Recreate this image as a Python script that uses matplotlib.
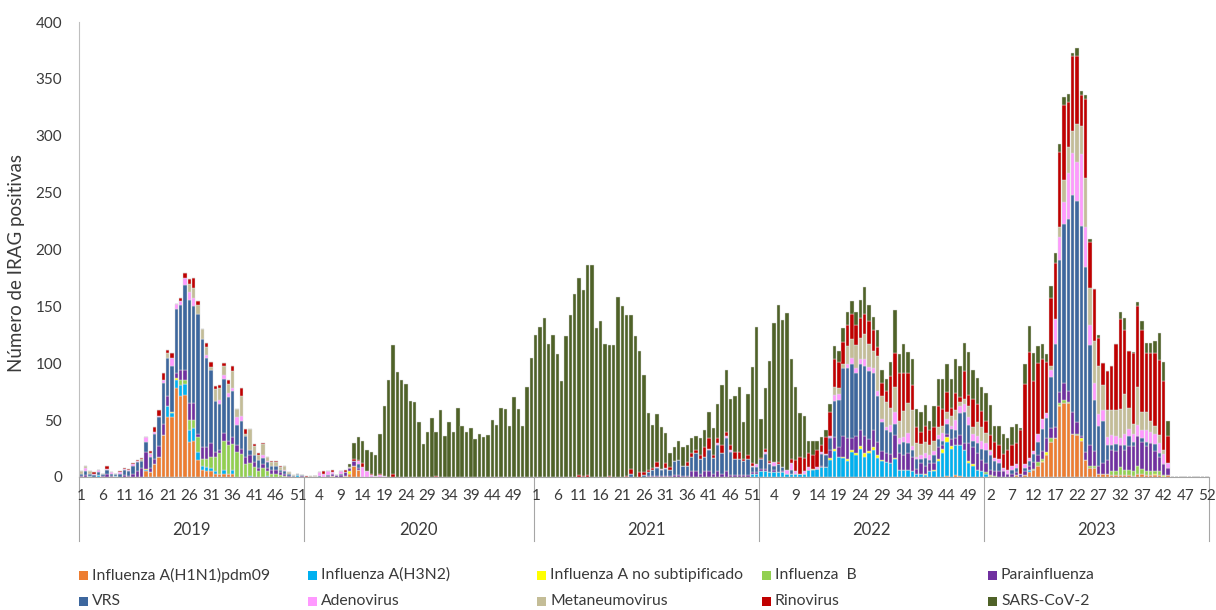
import numpy as np
import matplotlib
matplotlib.use("Agg")
import matplotlib.pyplot as plt
from matplotlib.patches import Rectangle
from matplotlib.transforms import blended_transform_factory

plt.rcParams["font.family"] = ["Lato", "DejaVu Sans"]

# weekly positive IRAG cases by virus, 2019-2023 (2020 has 53 weeks)
years = [2019, 2020, 2021, 2022, 2023]
weeks_per_year = [52, 53, 52, 52, 52]

h1n1 = (
    [0, 0, 0, 0, 0, 0, 0, 0, 0, 0, 0, 0, 0, 0, 0, 5, 4, 11, 18, 37, 53, 53, 78, 71, 72, 31, 32, 15, 6, 5,
     5, 3, 3, 3, 3, 3, 0, 0, 0, 0, 0, 0, 0, 0, 0, 0, 0, 0, 0, 0, 0, 0]
    + [0, 0, 1, 0, 0, 0, 1, 0, 0, 1, 3, 10, 6, 0, 0, 0, 0, 0, 0, 0, 0, 0, 0, 0, 0, 0, 0, 0, 0, 0,
       0, 0, 0, 0, 0, 0, 0, 0, 0, 0, 0, 0, 0, 0, 0, 0, 0, 0, 0, 0, 0, 0, 0]
    + [0, 0, 0, 0, 0, 0, 0, 0, 0, 0, 0, 0, 0, 0, 0, 0, 0, 0, 0, 0, 0, 0, 0, 0, 0, 0, 0, 0, 0, 0,
       0, 0, 0, 0, 0, 0, 0, 0, 0, 0, 0, 0, 0, 0, 0, 0, 0, 0, 0, 0, 0, 0]
    + [0, 0, 0, 0, 0, 0, 0, 0, 0, 0, 0, 0, 0, 0, 0, 0, 0, 0, 0, 0, 0, 0, 0, 0, 0, 0, 0, 0, 0, 0,
       0, 0, 0, 0, 0, 0, 0, 0, 0, 0, 0, 0, 0, 1, 0, 2, 1, 0, 0, 0, 0, 0]
    + [0, 1, 0, 0, 0, 0, 0, 2, 0, 2, 4, 6, 10, 13, 19, 31, 34, 62, 65, 65, 38, 37, 32, 15, 8, 8, 3, 3, 3, 2,
       2, 2, 2, 2, 1, 3, 3, 2, 2, 2, 2, 0, 2, 0, 0, 0, 0, 0, 0, 0, 0, 0]
)
h3n2 = (
    [0, 0, 1, 0, 2, 0, 0, 0, 1, 0, 0, 0, 0, 0, 0, 1, 0, 0, 0, 0, 9, 3, 7, 10, 10, 10, 11, 7, 4, 4,
     3, 2, 0, 3, 0, 3, 0, 0, 0, 1, 0, 0, 0, 1, 0, 0, 0, 0, 0, 0, 2, 0]
    + [0, 0, 0, 0, 0, 0, 0, 0, 0, 0, 0, 0, 0, 0, 0, 0, 0, 0, 0, 0, 0, 0, 0, 0, 0, 0, 0, 0, 0, 0,
       0, 0, 0, 0, 0, 0, 0, 0, 0, 0, 0, 0, 0, 0, 0, 0, 0, 0, 0, 0, 0, 0, 0]
    + [0, 0, 0, 0, 0, 0, 0, 0, 0, 0, 0, 0, 0, 0, 0, 0, 0, 0, 0, 0, 0, 0, 0, 0, 0, 0, 0, 0, 0, 0,
       0, 0, 0, 0, 0, 0, 0, 0, 0, 0, 0, 0, 0, 0, 0, 0, 0, 0, 0, 0, 3, 3]
    + [5, 5, 4, 4, 4, 4, 3, 3, 3, 3, 3, 6, 6, 7, 9, 9, 15, 23, 18, 17, 14, 22, 19, 25, 18, 21, 24, 17, 14, 13,
       12, 16, 6, 6, 6, 5, 3, 3, 2, 5, 5, 14, 21, 30, 25, 26, 27, 24, 12, 10, 6, 5]
    + [3, 0, 0, 0, 0, 0, 0, 0, 0, 0, 2, 0, 0, 0, 0, 0, 0, 0, 0, 0, 0, 0, 0, 0, 0, 0, 0, 0, 0, 0,
       0, 0, 0, 0, 0, 0, 0, 0, 0, 0, 0, 0, 0, 0, 0, 0, 0, 0, 0, 0, 0, 0]
)
flu_a_nst = (
    [0, 0, 0, 0, 0, 0, 0, 0, 0, 0, 0, 0, 0, 0, 0, 1, 0, 0, 0, 0, 0, 1, 2, 0, 0, 0, 0, 0, 0, 0,
     0, 0, 0, 0, 0, 0, 0, 0, 0, 0, 0, 0, 0, 0, 0, 0, 0, 0, 0, 0, 0, 0]
    + [0, 0, 0, 0, 0, 0, 0, 0, 0, 0, 2, 0, 0, 0, 0, 0, 0, 0, 0, 0, 0, 0, 0, 0, 0, 0, 0, 0, 0, 0,
       0, 0, 0, 0, 0, 0, 0, 0, 0, 0, 0, 0, 0, 0, 0, 0, 0, 0, 0, 0, 0, 0, 0]
    + [0, 0, 0, 0, 0, 0, 0, 0, 0, 0, 0, 0, 0, 0, 0, 0, 0, 0, 0, 0, 0, 0, 0, 0, 0, 0, 0, 0, 0, 0,
       0, 0, 0, 0, 0, 0, 0, 0, 0, 0, 0, 0, 0, 0, 0, 0, 0, 0, 0, 0, 0, 0]
    + [0, 0, 0, 0, 0, 0, 0, 0, 0, 0, 0, 0, 1, 0, 0, 0, 2, 2, 0, 1, 2, 2, 2, 2, 3, 2, 2, 2, 1, 0,
       0, 1, 0, 0, 0, 0, 0, 0, 1, 0, 1, 2, 4, 4, 2, 0, 0, 0, 2, 1, 0, 0]
    + [0, 0, 0, 0, 0, 0, 0, 0, 0, 0, 0, 0, 0, 1, 3, 0, 0, 1, 0, 0, 0, 0, 2, 0, 0, 0, 0, 0, 0, 0,
       0, 0, 0, 0, 0, 0, 0, 0, 0, 1, 0, 1, 0, 0, 0, 0, 0, 0, 0, 0, 0, 0]
)
flu_b = (
    [0, 0, 0, 0, 0, 0, 0, 0, 0, 0, 0, 0, 0, 0, 0, 0, 0, 0, 0, 0, 0, 0, 0, 4, 3, 9, 7, 13, 6, 7,
     10, 13, 18, 26, 25, 23, 22, 20, 11, 11, 9, 5, 8, 4, 3, 3, 2, 1, 0, 0, 0, 0]
    + [0, 0, 0, 0, 0, 0, 0, 0, 0, 0, 0, 0, 0, 0, 0, 0, 0, 0, 0, 0, 0, 0, 0, 0, 0, 0, 0, 0, 0, 0,
       0, 0, 0, 0, 0, 0, 0, 0, 0, 0, 0, 0, 0, 0, 0, 0, 0, 0, 0, 0, 0, 0, 0]
    + [0, 0, 0, 0, 0, 0, 0, 0, 0, 0, 0, 0, 0, 0, 0, 0, 0, 0, 0, 0, 0, 0, 0, 0, 0, 0, 0, 0, 0, 0,
       0, 0, 0, 0, 0, 0, 0, 0, 0, 0, 0, 0, 0, 0, 0, 0, 0, 0, 0, 0, 0, 0]
    + [0, 0, 0, 0, 0, 0, 0, 0, 0, 0, 0, 0, 0, 0, 0, 0, 0, 0, 0, 0, 0, 0, 0, 0, 0, 0, 0, 0, 0, 0,
       0, 0, 0, 0, 0, 0, 0, 0, 0, 0, 0, 0, 0, 0, 0, 0, 0, 0, 0, 0, 0, 0]
    + [1, 1, 1, 0, 0, 0, 0, 0, 0, 0, 0, 1, 3, 2, 0, 3, 0, 2, 3, 1, 0, 1, 0, 0, 2, 2, 0, 0, 0, 3,
       3, 7, 4, 4, 4, 7, 4, 3, 3, 2, 3, 1, 0, 0, 0, 0, 0, 0, 0, 0, 0, 0]
)
parainf = (
    [1, 2, 0, 0, 0, 1, 3, 1, 0, 0, 2, 1, 3, 5, 8, 15, 4, 5, 9, 10, 9, 0, 4, 9, 9, 15, 15, 3, 10, 10,
     12, 4, 3, 7, 4, 6, 6, 5, 7, 7, 4, 3, 3, 3, 3, 3, 2, 2, 1, 0, 0, 1]
    + [0, 0, 0, 0, 0, 1, 2, 2, 2, 3, 3, 4, 2, 0, 0, 0, 0, 0, 0, 0, 0, 0, 0, 0, 0, 0, 0, 0, 0, 0,
       0, 0, 0, 0, 0, 0, 0, 0, 0, 0, 0, 0, 0, 0, 0, 0, 0, 0, 0, 0, 0, 0, 0]
    + [0, 0, 0, 0, 0, 0, 0, 0, 0, 0, 0, 0, 0, 0, 0, 0, 0, 0, 0, 0, 0, 0, 0, 0, 0, 0, 1, 1, 1, 1,
       1, 1, 2, 2, 1, 1, 5, 5, 3, 5, 5, 3, 5, 3, 5, 2, 2, 2, 2, 2, 1, 1]
    + [2, 2, 0, 2, 0, 1, 0, 0, 0, 0, 0, 0, 0, 0, 1, 0, 7, 10, 8, 18, 18, 10, 15, 14, 15, 10, 15, 12, 8, 8,
       8, 20, 15, 13, 15, 13, 4, 9, 7, 7, 6, 10, 3, 3, 6, 6, 9, 6, 16, 15, 15, 10]
    + [8, 4, 4, 5, 5, 3, 3, 2, 3, 3, 4, 6, 6, 7, 12, 9, 10, 10, 15, 10, 19, 10, 2, 7, 18, 13, 7, 9, 12, 19,
       18, 19, 18, 21, 22, 26, 24, 22, 25, 18, 13, 9, 6, 0, 0, 0, 0, 0, 0, 0, 0, 0]
)
vrs = (
    [2, 3, 2, 2, 2, 2, 3, 2, 2, 3, 4, 4, 7, 8, 6, 9, 10, 22, 26, 36, 34, 41, 57, 57, 75, 91, 85, 105, 95, 79,
     64, 45, 40, 47, 38, 41, 18, 24, 18, 5, 6, 7, 6, 5, 4, 4, 2, 2, 2, 1, 1, 1]
    + [0, 0, 0, 1, 0, 1, 0, 0, 1, 0, 0, 0, 3, 0, 0, 0, 0, 0, 0, 0, 0, 0, 0, 0, 0, 0, 0, 0, 0, 0,
       0, 0, 0, 0, 0, 0, 0, 0, 0, 0, 0, 0, 0, 0, 0, 0, 0, 0, 0, 0, 0, 0, 0]
    + [0, 0, 0, 0, 0, 0, 0, 0, 0, 0, 0, 0, 0, 0, 0, 0, 0, 0, 0, 0, 0, 0, 3, 0, 0, 2, 3, 5, 7, 5,
       6, 5, 12, 13, 9, 9, 13, 16, 13, 13, 19, 14, 23, 18, 29, 20, 14, 14, 12, 14, 5, 5]
    + [9, 13, 7, 4, 7, 4, 0, 3, 0, 0, 0, 0, 0, 0, 10, 10, 10, 32, 42, 60, 62, 65, 55, 58, 62, 60, 50, 40, 25, 20,
       20, 10, 8, 12, 9, 6, 9, 4, 7, 3, 7, 7, 4, 9, 9, 7, 19, 27, 16, 6, 9, 10]
    + [12, 13, 9, 7, 0, 0, 3, 4, 0, 3, 4, 7, 12, 19, 18, 45, 73, 116, 139, 151, 191, 195, 185, 163, 88, 45, 35, 37, 13, 4,
       6, 0, 4, 9, 4, 0, 3, 4, 0, 6, 3, 0, 0, 0, 0, 0, 0, 0, 0, 0, 0, 0]
)
adeno = (
    [0, 3, 0, 1, 2, 0, 1, 1, 0, 1, 1, 1, 1, 1, 0, 4, 2, 2, 1, 2, 0, 7, 4, 4, 6, 7, 7, 0, 0, 2,
     0, 0, 4, 4, 4, 2, 7, 5, 0, 0, 0, 0, 2, 1, 0, 0, 0, 1, 0, 0, 0, 0]
    + [0, 0, 0, 3, 3, 3, 1, 0, 2, 0, 0, 0, 3, 9, 5, 2, 1, 2, 1, 0, 0, 0, 0, 0, 0, 0, 0, 0, 0, 0,
       0, 0, 0, 0, 0, 0, 0, 0, 0, 0, 0, 0, 0, 0, 0, 0, 0, 0, 0, 0, 0, 0, 0]
    + [0, 0, 0, 0, 0, 0, 0, 0, 0, 0, 0, 0, 0, 0, 0, 0, 0, 0, 0, 0, 0, 0, 0, 0, 0, 0, 0, 0, 1, 1,
       1, 0, 0, 0, 0, 0, 0, 0, 0, 0, 1, 0, 2, 0, 2, 2, 0, 0, 0, 0, 1, 2]
    + [0, 2, 1, 3, 0, 0, 3, 6, 2, 0, 2, 3, 0, 2, 2, 1, 2, 5, 5, 0, 3, 6, 5, 5, 6, 4, 5, 5, 3, 3,
       6, 10, 5, 4, 9, 3, 2, 3, 4, 4, 4, 4, 7, 4, 3, 9, 6, 7, 7, 6, 6, 7]
    + [6, 4, 3, 4, 3, 3, 4, 3, 0, 3, 3, 3, 7, 9, 4, 6, 22, 20, 20, 40, 37, 34, 63, 35, 18, 15, 10, 10, 7, 9,
       7, 6, 10, 6, 7, 10, 7, 10, 10, 9, 9, 9, 4, 0, 0, 0, 0, 0, 0, 0, 0, 0]
)
metaneumo = (
    [2, 2, 2, 0, 0, 0, 0, 0, 0, 0, 0, 0, 0, 0, 2, 0, 1, 0, 0, 0, 4, 0, 0, 0, 0, 7, 9, 8, 9, 7,
     3, 10, 10, 8, 8, 15, 7, 17, 2, 18, 8, 4, 10, 4, 3, 3, 3, 4, 1, 1, 0, 0]
    + [0, 1, 0, 0, 0, 0, 0, 0, 0, 0, 1, 0, 0, 0, 0, 0, 0, 0, 0, 0, 0, 0, 0, 0, 0, 0, 0, 0, 0, 0,
       0, 0, 0, 0, 0, 0, 0, 0, 0, 0, 0, 0, 0, 0, 0, 0, 0, 0, 0, 0, 0, 0, 0]
    + [0, 0, 0, 0, 0, 0, 0, 0, 0, 0, 0, 0, 0, 0, 0, 0, 0, 0, 0, 0, 0, 0, 0, 0, 0, 0, 0, 0, 0, 0,
       0, 0, 0, 0, 0, 0, 0, 0, 0, 0, 0, 0, 0, 0, 0, 0, 0, 0, 0, 0, 0, 0]
    + [0, 0, 0, 0, 0, 0, 0, 0, 0, 0, 0, 0, 0, 0, 0, 0, 0, 7, 5, 3, 16, 16, 20, 18, 22, 20, 15, 30, 20, 22,
       15, 22, 15, 23, 26, 32, 12, 10, 10, 9, 9, 7, 6, 6, 9, 9, 4, 5, 9, 6, 12, 12]
    + [9, 1, 0, 0, 0, 0, 0, 0, 0, 0, 0, 0, 0, 0, 0, 4, 0, 9, 19, 23, 19, 33, 25, 43, 32, 37, 43, 22, 24, 22,
       23, 26, 35, 19, 9, 33, 16, 16, 9, 7, 7, 4, 0, 0, 0, 0, 0, 0, 0, 0, 0, 0]
)
rino = (
    [0, 0, 0, 1, 0, 0, 3, 0, 0, 1, 1, 1, 1, 1, 1, 0, 2, 4, 5, 6, 3, 4, 0, 2, 4, 4, 9, 4, 0, 4,
     4, 3, 3, 2, 3, 5, 0, 7, 4, 0, 2, 2, 1, 0, 1, 1, 1, 0, 0, 0, 0, 0]
    + [1, 0, 0, 0, 2, 0, 2, 0, 0, 2, 0, 2, 1, 3, 0, 1, 0, 1, 0, 0, 3, 0, 0, 0, 0, 0, 0, 0, 0, 0,
       1, 0, 0, 0, 0, 0, 0, 0, 0, 0, 0, 0, 0, 0, 0, 0, 0, 0, 0, 0, 0, 0, 0]
    + [0, 0, 0, 0, 0, 0, 0, 0, 0, 0, 2, 1, 2, 0, 0, 0, 0, 1, 0, 0, 0, 1, 4, 0, 4, 2, 2, 2, 4, 0,
       4, 3, 0, 0, 0, 3, 3, 3, 3, 8, 9, 2, 4, 7, 4, 4, 6, 6, 2, 3, 2, 0]
    + [1, 3, 2, 0, 2, 0, 0, 4, 10, 15, 12, 12, 12, 15, 6, 15, 21, 25, 23, 20, 19, 22, 18, 18, 17, 20, 18, 8, 12, 10,
       28, 30, 42, 33, 26, 22, 14, 11, 14, 13, 12, 18, 15, 18, 7, 15, 4, 24, 10, 25, 16, 14]
    + [10, 13, 14, 12, 12, 18, 18, 19, 38, 71, 93, 61, 62, 53, 45, 59, 49, 66, 66, 40, 66, 60, 27, 69, 41, 45, 24, 19, 34, 39,
       58, 79, 56, 50, 62, 71, 72, 52, 60, 64, 66, 60, 24, 0, 0, 0, 0, 0, 0, 0, 0, 0]
)
sars_cov2 = (
    [0, 0, 0, 0, 0, 0, 0, 0, 0, 0, 0, 0, 0, 0, 0, 0, 0, 0, 0, 0, 0, 0, 0, 0, 0, 0, 0, 0, 0, 0,
     0, 0, 0, 0, 0, 0, 0, 0, 0, 0, 0, 0, 0, 0, 0, 0, 0, 0, 0, 0, 0, 0]
    + [0, 0, 0, 0, 0, 0, 0, 0, 0, 0, 2, 14, 20, 20, 19, 19, 18, 35, 61, 85, 113, 92, 85, 82, 67, 66, 48, 29, 40, 52,
       39, 59, 36, 48, 40, 61, 45, 40, 43, 33, 38, 35, 37, 50, 46, 61, 60, 45, 70, 60, 45, 79, 105]
    + [125, 132, 140, 117, 125, 108, 84, 124, 142, 161, 173, 163, 184, 186, 131, 137, 117, 115, 116, 158,
       150, 141, 135, 124, 107, 86, 50, 38, 42, 37, 27, 12, 12, 17, 16, 15, 13, 12, 15, 15,
       23, 24, 30, 53, 54, 41, 49, 57, 32, 54, 85, 121]
    + [34, 53, 88, 122, 138, 129, 138, 88, 64, 38, 37, 11, 13, 8, 7, 6, 7, 11, 10, 12, 11, 12, 11, 16, 24, 14, 12, 15, 11, 10,
       12, 38, 17, 26, 19, 23, 16, 17, 18, 8, 18, 24, 26, 24, 25, 30, 28, 25, 38, 25, 23, 21]
    + [25, 26, 14, 17, 18, 10, 16, 17, 2, 17, 23, 25, 15, 13, 7, 11, 9, 7, 7, 7, 3, 7, 3, 4, 2, 0, 3, 0, 0, 0,
       0, 6, 11, 0, 1, 4, 8, 9, 9, 11, 24, 17, 13, 0, 0, 0, 0, 0, 0, 0, 0, 0]
)

series_names = ["Influenza A(H1N1)pdm09", "Influenza A(H3N2)", "Influenza A no subtipificado",
                "Influenza  B", "Parainfluenza", "VRS", "Adenovirus", "Metaneumovirus",
                "Rinovirus", "SARS-CoV-2"]
series_values = [h1n1, h3n2, flu_a_nst, flu_b, parainf, vrs, adeno, metaneumo, rino, sars_cov2]
colors = ["#ED7D31", "#00B0F0", "#FFFF00", "#92D050", "#7030A0",
          "#3D679E", "#FF99FF", "#C4BD97", "#C00000", "#4F6228"]
text_color = "#3a3a3a"

n = sum(weeks_per_year)
for name, vals in zip(series_names, series_values):
    assert len(vals) == n, (name, len(vals))

W, H = 1216, 610
fig = plt.figure(figsize=(W / 100, H / 100), dpi=100)
ax = fig.add_axes([79 / W, 1 - 477 / H, (1209 - 79) / W, (477 - 22) / H])

x = np.arange(n)
bottom = np.zeros(n)
for vals, col in zip(series_values, colors):
    v = np.array(vals, dtype=float)
    ax.bar(x, v, bottom=bottom, width=0.78, color=col, edgecolor="#dcdcdc", linewidth=0.3)
    bottom += v

ax.set_xlim(-0.5, n - 0.5)
ax.set_ylim(0, 400)
ax.set_yticks(np.arange(0, 401, 50))
ax.tick_params(axis="y", length=0, pad=12, labelsize=11, labelcolor=text_color)
ax.set_xticks([])
for s in ["top", "right"]:
    ax.spines[s].set_visible(False)
ax.spines["left"].set_color("#bfbfbf")
ax.spines["bottom"].set_color("#a6a6a6")
ax.spines["left"].set_linewidth(0.8)
ax.spines["bottom"].set_linewidth(0.8)

# multi-level category axis: week numbers every 5 bars, then years
trans = blended_transform_factory(ax.transData, ax.transAxes)
week_no = [w + 1 for nw in weeks_per_year for w in range(nw)]
for i in range(0, n, 5):
    ax.text(i, -19 / 455, str(week_no[i]), transform=trans, ha="center", va="center",
            fontsize=11, color=text_color)
start = 0
bounds = [-0.5]
for yr, nw in zip(years, weeks_per_year):
    ax.text(start + (nw - 1) / 2, -53 / 455, str(yr), transform=trans, ha="center", va="center",
            fontsize=12, color=text_color)
    start += nw
    bounds.append(start - 0.5)
for b in bounds:
    ax.plot([b, b], [0, -64 / 455], transform=trans, color="#a6a6a6", lw=0.8, clip_on=False)

fig.text(17 / W, 1 - 263 / H, "Número de IRAG positivas", rotation=90, ha="center", va="center",
         fontsize=13.5, color=text_color)

# legend in two rows of five
col_x = [79, 308, 537, 762, 988]
row_y = [575, 601]
for k, (name, col) in enumerate(zip(series_names, colors)):
    cx = col_x[k % 5]
    cy = row_y[k // 5]
    fig.add_artist(Rectangle((cx / W, 1 - (cy + 4.5) / H), 9 / W, 9 / H,
                             transform=fig.transFigure, facecolor=col, edgecolor="none"))
    fig.text((cx + 13) / W, 1 - cy / H, name, ha="left", va="center", fontsize=11.3, color=text_color)

fig.savefig("out.png", dpi=100)
